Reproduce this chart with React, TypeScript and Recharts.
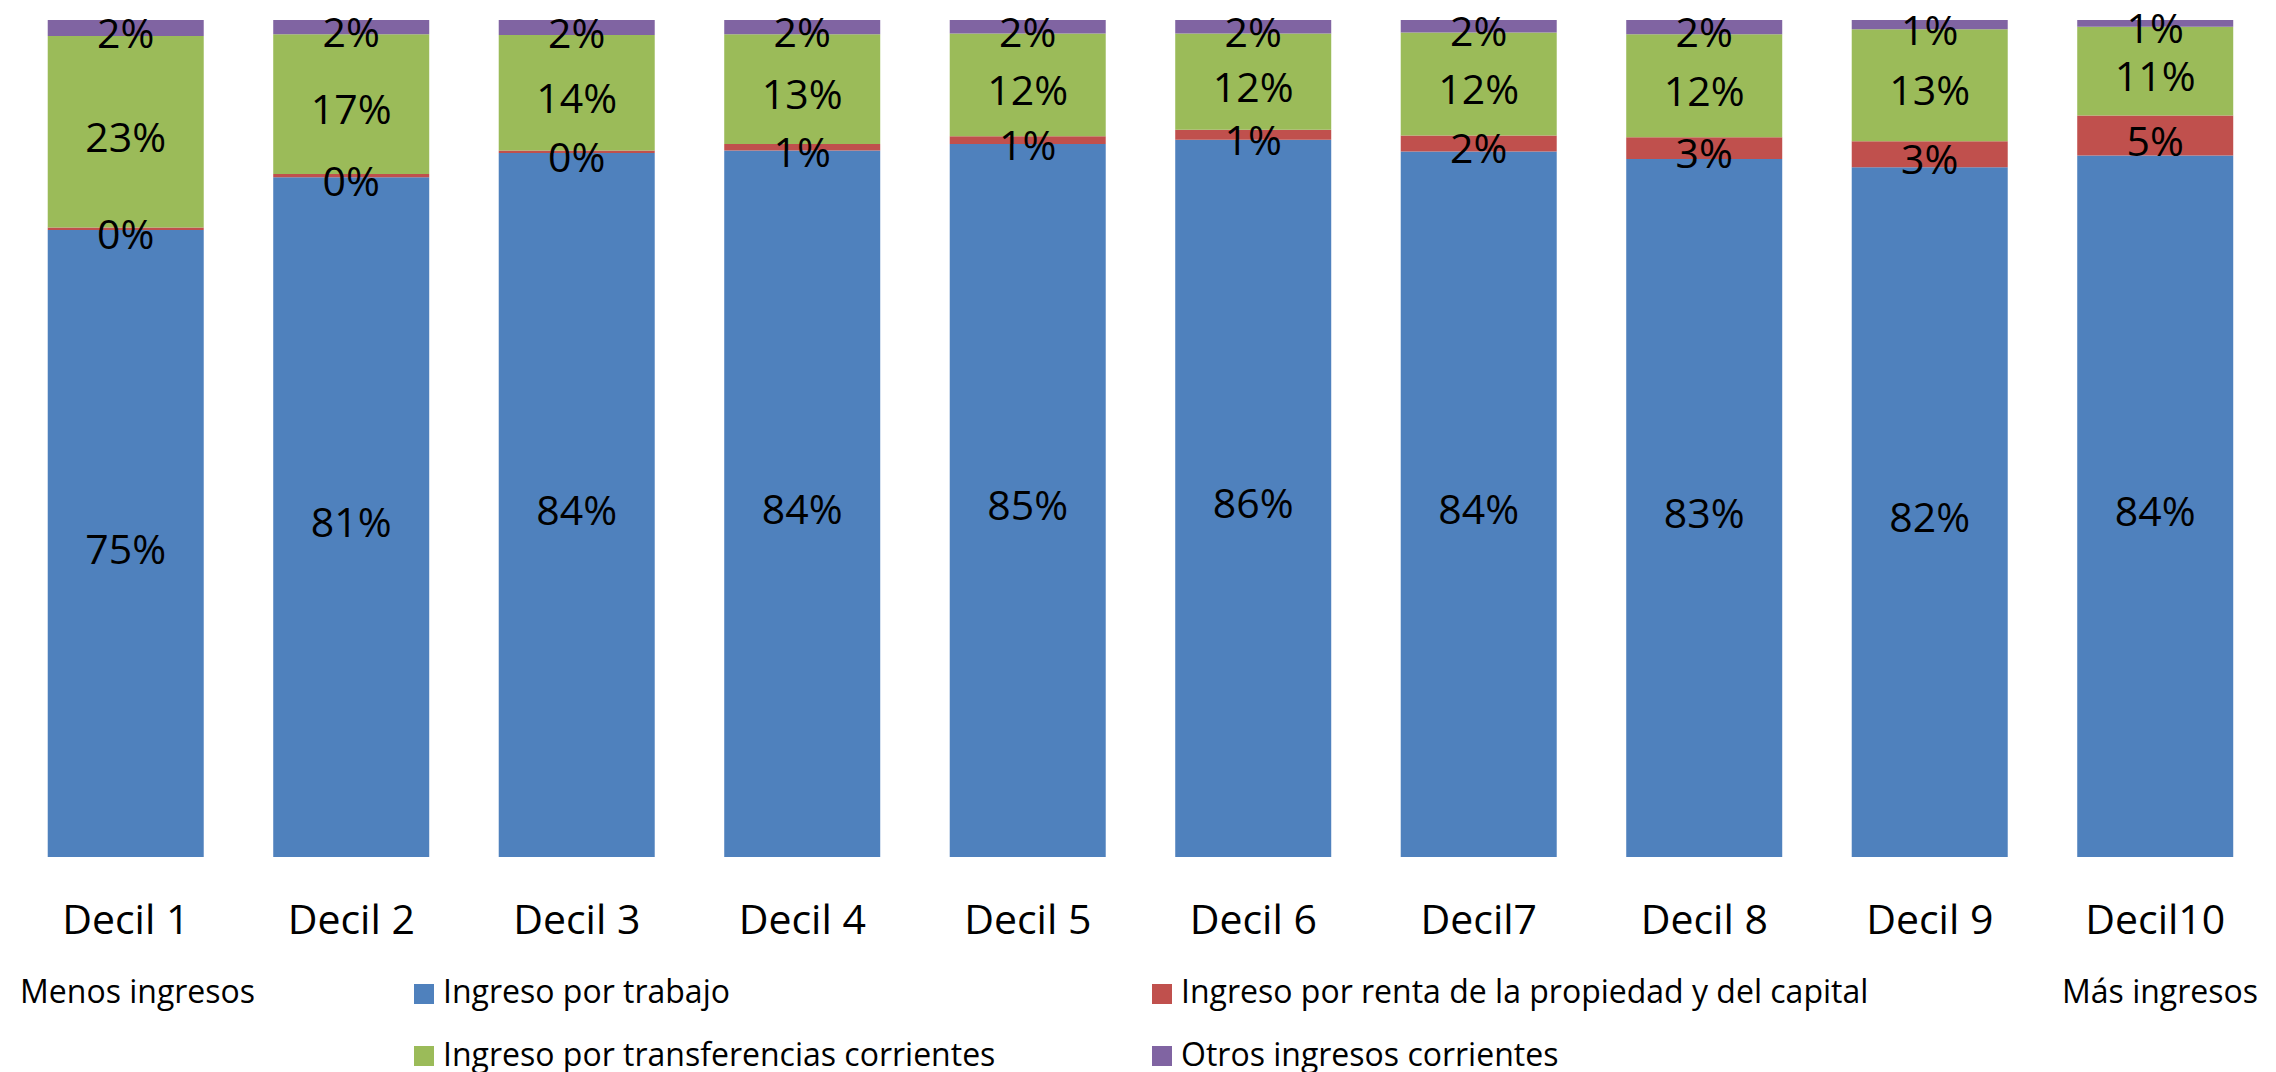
import React from 'react';
import { BarChart, Bar, XAxis, YAxis, Legend, LabelList } from 'recharts';

const categories = ['Decil 1', 'Decil 2', 'Decil 3', 'Decil 4', 'Decil 5', 'Decil 6', 'Decil7', 'Decil 8', 'Decil 9', 'Decil10'];
const trabajo = [74.9, 81.2, 84.1, 84.4, 85.2, 85.7, 84.3, 83.4, 82.4, 83.8];
const renta = [0.3, 0.4, 0.3, 0.8, 0.9, 1.2, 1.9, 2.6, 3.1, 4.8];
const transferencias = [22.9, 16.7, 13.8, 13.1, 12.3, 11.5, 12.3, 12.3, 13.4, 10.6];
const otros = [1.9, 1.7, 1.8, 1.7, 1.6, 1.6, 1.5, 1.7, 1.1, 0.8];

const seriesNames = {
  trabajo: 'Ingreso por trabajo',
  renta: 'Ingreso por renta de la propiedad y del capital',
  transferencias: 'Ingreso por transferencias corrientes',
  otros: 'Otros ingresos corrientes',
};
const colors = { trabajo: '#4F81BD', renta: '#C0504D', transferencias: '#9BBB59', otros: '#8064A2' };
const edgeTicks = [0, 1, 2, 3, 4, 5, 6, 7, 8, 9, 10];
const leftNote = 'Menos ingresos';
const rightNote = 'Más ingresos';

const data = categories.map((name, i) => ({
  name,
  trabajo: trabajo[i],
  renta: renta[i],
  transferencias: transferencias[i],
  otros: otros[i],
}));

const FONT = '"Open Sans", sans-serif';

const renderLabel = (props: any) => {
  const { x, y, width, height, value } = props;
  return (
    <text
      x={x + width / 2}
      y={y + height / 2}
      dy={4}
      textAnchor="middle"
      dominantBaseline="central"
      fontFamily={FONT}
      fontSize={41}
      fill="#000"
    >
      {Math.round(value) + '%'}
    </text>
  );
};

const CatTick = (props: any) => {
  const { x, y, payload } = props;
  return (
    <text x={x} y={y} dy={77} textAnchor="middle" fontFamily={FONT} fontSize={41} fill="#000">
      {payload.value}
    </text>
  );
};

const legendPos: Record<string, { left: number; top: number }> = {
  [seriesNames.trabajo]: { left: 414, top: 0 },
  [seriesNames.renta]: { left: 1152, top: 0 },
  [seriesNames.transferencias]: { left: 414, top: 1 },
  [seriesNames.otros]: { left: 1152, top: 1 },
};

const rowTop = [13, 76];
const squareTop = [22, 84];

const LegendContent = (props: any) => {
  const { payload } = props;
  const textStyle: React.CSSProperties = {
    position: 'absolute',
    fontFamily: FONT,
    fontSize: 32,
    lineHeight: '32px',
    whiteSpace: 'nowrap',
    color: '#000',
  };
  return (
    <div style={{ position: 'relative', width: 2276, height: 110 }}>
      <span style={{ ...textStyle, left: 20, top: rowTop[0] }}>{leftNote}</span>
      <span style={{ ...textStyle, left: 2062, top: rowTop[0] }}>{rightNote}</span>
      {(payload || []).map((p: any) => {
        const pos = legendPos[p.value];
        if (!pos) return null;
        return (
          <React.Fragment key={p.value}>
            <span
              style={{
                position: 'absolute',
                left: pos.left,
                top: squareTop[pos.top],
                width: 20,
                height: 20,
                background: p.color,
              }}
            />
            <span style={{ ...textStyle, left: pos.left + 29, top: rowTop[pos.top] }}>{p.value}</span>
          </React.Fragment>
        );
      })}
    </div>
  );
};

export default function App() {
  return (
    <div style={{ position: 'absolute', left: 0, top: 0, width: 2276, height: 1072, background: '#fff' }}>
      <BarChart
        width={2276}
        height={1072}
        data={data}
        margin={{ top: 20, right: 8, left: 13, bottom: 0 }}
        barCategoryGap="15.4%"
      >
        <XAxis
          xAxisId="edges"
          type="number"
          domain={[0, 10]}
          ticks={edgeTicks}
          tick={false}
          tickSize={15}
          height={0}
          axisLine={{ stroke: '#8C8C8C', strokeWidth: 1.5 }}
          tickLine={{ stroke: '#8C8C8C', strokeWidth: 1.5 }}
          allowDataOverflow
        />
        <XAxis
          xAxisId="cat"
          dataKey="name"
          axisLine={false}
          tickLine={false}
          tickSize={0}
          tickMargin={0}
          height={105}
          interval={0}
          tick={<CatTick />}
        />
        <YAxis hide domain={[0, 100]} />
        <Legend
          verticalAlign="bottom"
          content={<LegendContent />}
          wrapperStyle={{ left: 0, bottom: 0, width: 2276, height: 110 }}
        />
        <Bar xAxisId="cat" dataKey="trabajo" name={seriesNames.trabajo} stackId="a" fill={colors.trabajo} isAnimationActive={false}>
          <LabelList dataKey="trabajo" content={renderLabel} />
        </Bar>
        <Bar xAxisId="cat" dataKey="renta" name={seriesNames.renta} stackId="a" fill={colors.renta} isAnimationActive={false}>
          <LabelList dataKey="renta" content={renderLabel} />
        </Bar>
        <Bar xAxisId="cat" dataKey="transferencias" name={seriesNames.transferencias} stackId="a" fill={colors.transferencias} isAnimationActive={false}>
          <LabelList dataKey="transferencias" content={renderLabel} />
        </Bar>
        <Bar xAxisId="cat" dataKey="otros" name={seriesNames.otros} stackId="a" fill={colors.otros} isAnimationActive={false}>
          <LabelList dataKey="otros" content={renderLabel} />
        </Bar>
      </BarChart>
    </div>
  );
}
